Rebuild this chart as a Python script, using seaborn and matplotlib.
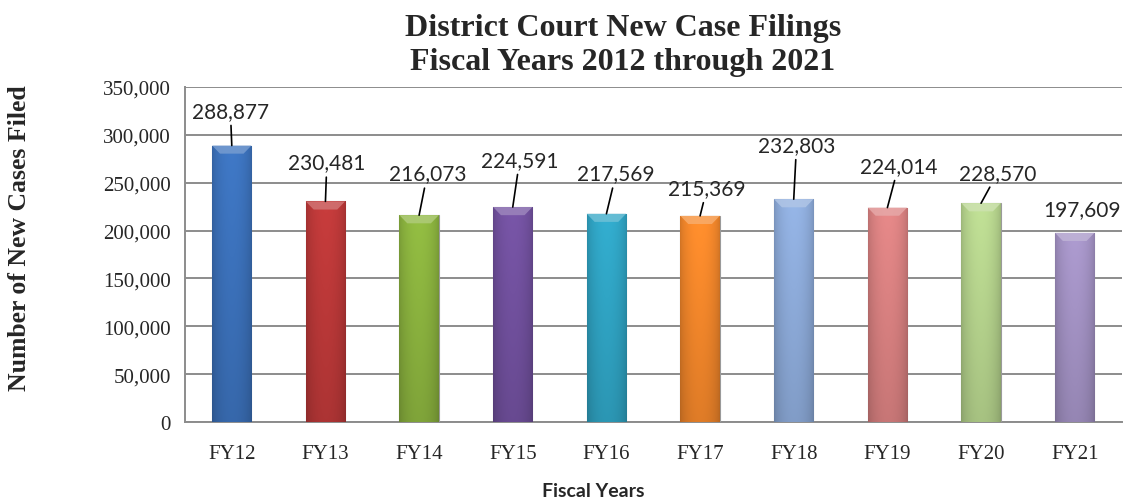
import numpy as np
import pandas as pd
import seaborn as sns
import matplotlib.pyplot as plt
import matplotlib.colors as mcolors
from matplotlib.patches import Polygon
from matplotlib.ticker import FuncFormatter, FixedLocator

# Veriler
years = ["FY12", "FY13", "FY14", "FY15", "FY16", "FY17", "FY18", "FY19", "FY20", "FY21"]
filings = [288877, 230481, 216073, 224591, 217569, 215369, 232803, 224014, 228570, 197609]
bar_colors = ["#3c72bc", "#bd3939", "#8cb43f", "#72519f", "#30a5c5",
              "#f5882b", "#8eacdb", "#db8282", "#b7d58e", "#a493c5"]

# etiket kaydırmaları (punto), leader çizgisi olsun mu
label_offsets = [(-1, 25), (1, 28), (6, 30), (5, 34), (7, 29),
                 (5, 20), (2, 39), (8, 30), (12, 22), (5, 17)]
show_leader = [True] * 9 + [False]

df = pd.DataFrame({"year": years, "filings": filings})

sns.set_style("white")
plt.rcParams["font.family"] = ["Liberation Serif", "DejaVu Serif"]

fig = plt.figure(figsize=(11.23, 5.02), dpi=100)
ax = fig.add_axes([0.1647, 0.1574, 0.834, 0.6673])

sns.barplot(data=df, x="year", y="filings", hue="year", palette=bar_colors,
            legend=False, width=0.42, ax=ax, saturation=1, zorder=3,
            edgecolor="#9a9a9a", linewidth=0.8)

# çubuklara hafif gradyan + üst kapak
bars = sorted(ax.patches, key=lambda p: p.get_x())
tx = np.linspace(0, 1, 60)
hshade = 0.86 + 0.2 * np.sin(np.pi * tx) ** 0.6
ty = np.linspace(0, 1, 60)
vshade = 1.0 - 0.14 * ty  # üst açık, alt koyu
for patch, col in zip(bars, bar_colors):
    x0, y0 = patch.get_x(), patch.get_y()
    w, h = patch.get_width(), patch.get_height()
    rgb = np.array(mcolors.to_rgb(col))
    img = np.clip(rgb[None, None, :] * vshade[:, None, None] * hshade[None, :, None], 0, 1)
    im = ax.imshow(img, extent=(x0, x0 + w, y0, y0 + h), aspect="auto",
                   zorder=3.5, interpolation="bicubic")
    im.set_clip_path(patch)
    cap_h = 8500
    light = rgb + (1 - rgb) * 0.3
    cap = Polygon([(x0, y0 + h), (x0 + w, y0 + h), (x0 + w * 0.8, y0 + h - cap_h),
                   (x0 + w * 0.2, y0 + h - cap_h)], closed=True,
                  facecolor=light, edgecolor="none", alpha=0.85, zorder=3.6)
    ax.add_patch(cap)

ax.set_xlim(-0.5, len(years) - 0.5)
ax.set_ylim(0, 350000)
ax.set_yticks(np.arange(0, 350001, 50000))
ax.yaxis.set_major_formatter(FuncFormatter(lambda v, p: f"{int(v):,}"))
ax.grid(axis="y", color="#8c8c8c", linewidth=1.4, zorder=0)
ax.set_axisbelow(True)

for s in ["top", "right"]:
    ax.spines[s].set_visible(False)
for s in ["left", "bottom"]:
    ax.spines[s].set_color("#8c8c8c")
    ax.spines[s].set_linewidth(1.4)

ax.xaxis.set_minor_locator(FixedLocator(np.arange(-0.5, len(years), 1)))
ax.tick_params(axis="x", which="major", length=0, pad=16, labelsize=15)
ax.tick_params(axis="x", which="minor", length=7, width=1.4, color="#8c8c8c")
ax.tick_params(axis="y", length=6, width=1.4, color="#8c8c8c", labelsize=15, pad=4)
ax.set_xlabel("")
ax.set_ylabel("")

# veri etiketleri
for i, (v, off, lead) in enumerate(zip(filings, label_offsets, show_leader)):
    ax.annotate(f"{v:,}", xy=(i, v), xytext=off, textcoords="offset points",
                ha="center", va="center", fontsize=15, family=["Lato", "DejaVu Sans"],
                arrowprops=dict(arrowstyle="-", color="black", lw=1.2,
                                shrinkA=1, shrinkB=0) if lead else None,
                zorder=5)

fig.text(623 / 1123, 1 - 14 / 502,
         "District Court New Case Filings\nFiscal Years 2012 through 2021",
         ha="center", va="top", fontsize=23, fontweight="bold", linespacing=1.22)
fig.text(20 / 1123, 1 - 238 / 502, "Number of New Cases Filed", rotation=90,
         ha="center", va="center", fontsize=18.5, fontweight="bold")
fig.text(593 / 1123, 1 - 492 / 502, "Fiscal Years", ha="center", va="center",
         fontsize=14, fontweight="bold", family=["Lato", "DejaVu Sans"])

fig.savefig("out.png", dpi=100)
